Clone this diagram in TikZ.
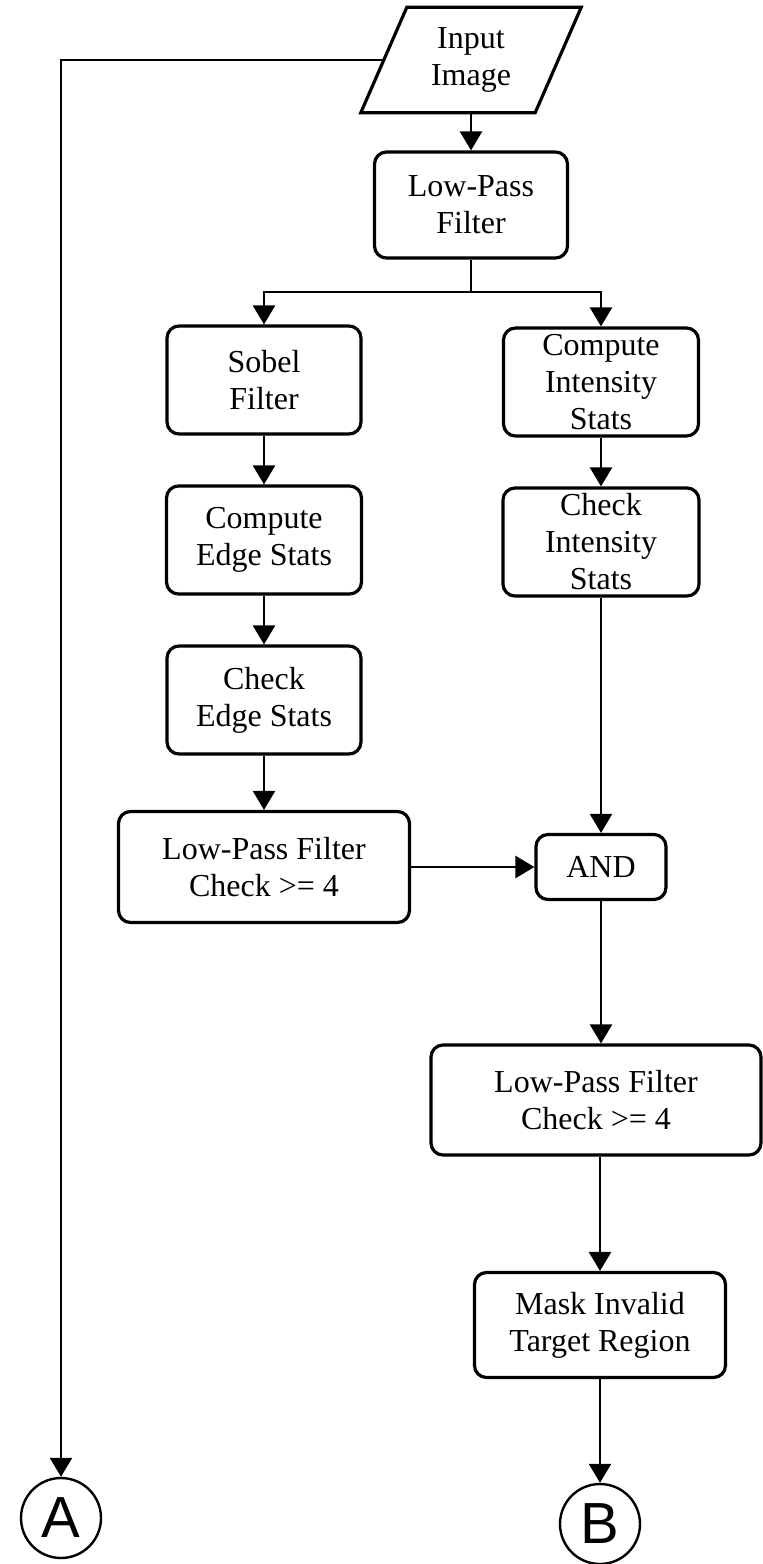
\documentclass[tikz,border=0pt]{standalone}
\usepackage{fontspec}
\setmainfont{Liberation Serif}
\newfontfamily\connfont{Liberation Sans}
\usetikzlibrary{arrows.meta}

\newcommand{\boxfont}{\fontsize{32}{37}\selectfont}
\newcommand{\connletter}{\connfont\fontsize{58}{58}\selectfont}

\tikzset{
  proc/.style={draw, line width=3.2pt, rounded corners=12pt, align=center,
               inner sep=0pt, font=\boxfont},
  iobox/.style={align=center, inner sep=0pt, font=\boxfont},
  flow/.style={line width=2.6pt, -{Triangle[length=19pt,width=22pt]}},
  joint/.style={line width=2.6pt},
  connector/.style={circle, draw, line width=2.4pt, minimum size=80pt,
                    inner sep=0pt, font=\connletter}
}

\begin{document}
\begin{tikzpicture}[x=1pt, y=-1pt]
  \fill[white] (0,0) rectangle (763,1564);
  \useasboundingbox (0,0) rectangle (763,1564);

  % input (parallelogram outline drawn around the text node)
  \node[iobox, minimum width=174pt, minimum height=105pt] (in) at (471,60) {Input\\Image};
  \draw[line width=3.2pt, line join=miter]
    ([xshift=23pt]in.north west) -- ([xshift=23pt]in.north east) --
    ([xshift=-23pt]in.south east) -- ([xshift=-23pt]in.south west) -- cycle;

  % processing boxes
  \node[proc, minimum width=193pt, minimum height=106pt] (lp1)   at (471,205) {Low-Pass\\Filter};
  \node[proc, minimum width=194pt, minimum height=108pt] (sobel) at (264,380) {Sobel\\Filter};
  \node[proc, minimum width=195pt, minimum height=108pt] (ci)    at (601,382) {Compute\\Intensity\\Stats};
  \node[proc, minimum width=195pt, minimum height=108pt] (ce)    at (264,540) {Compute\\Edge Stats};
  \node[proc, minimum width=196pt, minimum height=108pt] (cis)   at (601,542) {Check\\Intensity\\Stats};
  \node[proc, minimum width=194pt, minimum height=108pt] (che)   at (264,700) {Check\\Edge Stats};
  \node[proc, minimum width=291pt, minimum height=111pt] (lpl)   at (264,867) {Low-Pass Filter\\Check >= 4};
  \node[proc, minimum width=130pt, minimum height=65pt]  (and)   at (601,867) {AND};
  \node[proc, minimum width=330pt, minimum height=110pt] (lpr)   at (596,1100) {Low-Pass Filter\\Check >= 4};
  \node[proc, minimum width=251pt, minimum height=105pt] (mask)  at (600,1325) {Mask Invalid\\Target Region};

  % off-page connectors
  \node[connector] (A) at (61,1518) {A};
  \node[connector] (B) at (600,1524) {B};

  % connections
  \draw[flow] (in.west) -| (A.north);
  \draw[flow] (in.south) -- (lp1.north);
  \coordinate (split) at (471,292);
  \draw[joint] (lp1.south) -- (split);
  \draw[flow] (split) -| (sobel.north);
  \draw[flow] (split) -| (ci.north);
  \draw[flow] (sobel.south) -- (ce.north);
  \draw[flow] (ce.south) -- (che.north);
  \draw[flow] (che.south) -- (lpl.north);
  \draw[flow] (ci.south) -- (cis.north);
  \draw[flow] (cis.south) -- (and.north);
  \draw[flow] (lpl.east) -- (and.west);
  \draw[flow] (and.south) -- (and.south |- lpr.north);
  \draw[flow] (mask.north |- lpr.south) -- (mask.north);
  \draw[flow] (mask.south) -- (B.north);
\end{tikzpicture}
\end{document}
